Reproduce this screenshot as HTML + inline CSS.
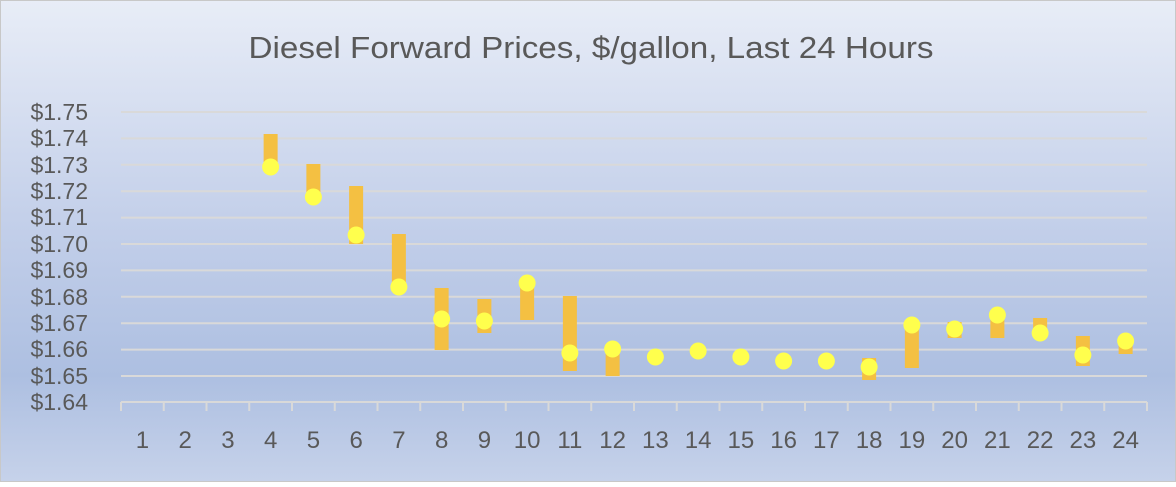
<!DOCTYPE html>
<html><head><style>
body{margin:0;width:1176px;height:482px;overflow:hidden}
</style></head><body>
<svg width="1176" height="482" xmlns="http://www.w3.org/2000/svg" font-family="Liberation Sans, sans-serif">
<defs><linearGradient id="g" x1="0" y1="0" x2="0" y2="1">
<stop offset="0" stop-color="#e8edf7"/><stop offset="0.45" stop-color="#c4d0ea"/><stop offset="0.78" stop-color="#adbfe1"/><stop offset="1" stop-color="#c6d2ea"/></linearGradient></defs>
<rect x="0.5" y="0.5" width="1175" height="481" fill="url(#g)" stroke="#c8c8c8"/>
<text x="591" y="58" text-anchor="middle" font-size="31" fill="#595959" textLength="685" lengthAdjust="spacingAndGlyphs">Diesel Forward Prices, $/gallon, Last 24 Hours</text>
<g stroke="#d9d9d9" stroke-width="2">
<line x1="121" x2="1147" y1="112" y2="112"/><line x1="121" x2="1147" y1="138.4" y2="138.4"/><line x1="121" x2="1147" y1="164.8" y2="164.8"/><line x1="121" x2="1147" y1="191.2" y2="191.2"/><line x1="121" x2="1147" y1="217.6" y2="217.6"/><line x1="121" x2="1147" y1="244" y2="244"/><line x1="121" x2="1147" y1="270.4" y2="270.4"/><line x1="121" x2="1147" y1="296.8" y2="296.8"/><line x1="121" x2="1147" y1="323.2" y2="323.2"/><line x1="121" x2="1147" y1="349.6" y2="349.6"/><line x1="121" x2="1147" y1="376" y2="376"/><line x1="121" x2="1147" y1="402" y2="402"/>
</g>
<g stroke="#d9d9d9" stroke-width="2" id="ticks"></g>
<g font-size="23" fill="#595959" text-anchor="end">
<text x="88" y="120">$1.75</text><text x="88" y="146">$1.74</text><text x="88" y="173">$1.73</text><text x="88" y="199">$1.72</text><text x="88" y="225">$1.71</text><text x="88" y="252">$1.70</text><text x="88" y="278">$1.69</text><text x="88" y="305">$1.68</text><text x="88" y="331">$1.67</text><text x="88" y="357">$1.66</text><text x="88" y="384">$1.65</text><text x="88" y="410">$1.64</text>
</g>
<g id="cats" font-size="24" fill="#595959" text-anchor="middle"></g>
<g id="bars" fill="#f4c042"></g>
<g id="dots" fill="#ffff4d"></g>
<script>
var ns="http://www.w3.org/2000/svg",w=42.75;
function el(p,t,a,txt){var e=document.createElementNS(ns,t);for(var k in a)e.setAttribute(k,a[k]);if(txt)e.textContent=txt;document.getElementById(p).appendChild(e);}
for(var i=0;i<=24;i++){var x=121+i*w;el("ticks","line",{x1:x,x2:x,y1:402,y2:411});}
for(var i=1;i<=24;i++)el("cats","text",{x:121+(i-.5)*w,y:448},String(i));
var d={4:[134,162,167],5:[164,192,197],6:[186,244,235],7:[234,290,287],8:[288,350,319],9:[299,333,321],10:[283,320,283],11:[296,371,353],12:[345,376,349],13:[0,0,357],14:[0,0,351],15:[0,0,357],16:[0,0,361],17:[0,0,361],18:[358,380,367],19:[325,368,325],20:[322,338,329],21:[320,338,315],22:[318,337,333],23:[336,366,355],24:[341,354,341]};
for(var k in d){var c=121+(k-.5)*w,v=d[k];if(v[1]>v[0])el("bars","rect",{x:c-7,y:v[0],width:14,height:v[1]-v[0]});el("dots","circle",{cx:c,cy:v[2],r:8.5});}
</script>
</svg>
</body></html>
